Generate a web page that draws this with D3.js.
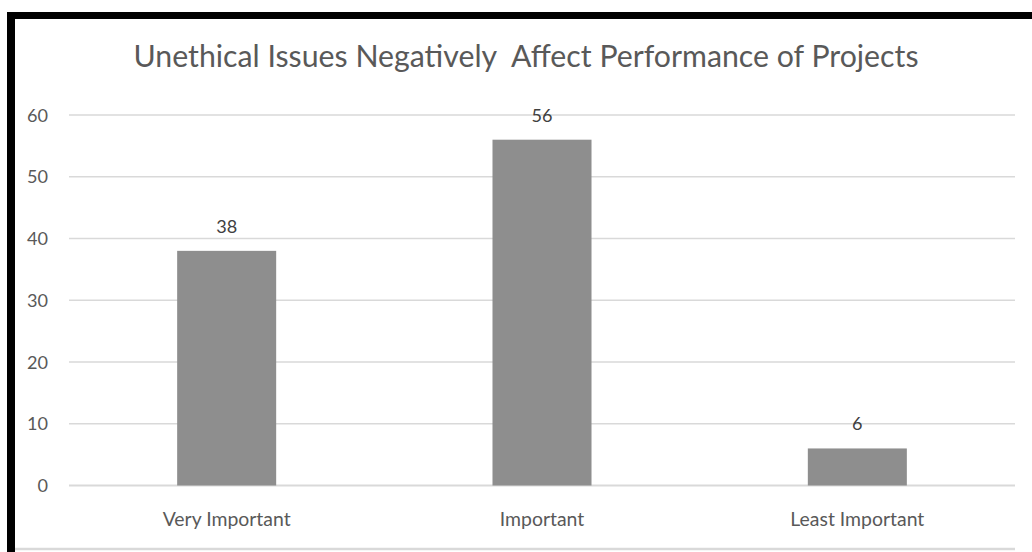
<!DOCTYPE html>
<html>
<head>
<meta charset="utf-8">
<script src="https://cdn.jsdelivr.net/npm/d3@7"></script>
<style>
  html, body { margin: 0; padding: 0; background: #fff; }
  svg { display: block; }
  text { font-family: Lato, "Open Sans", sans-serif; }
</style>
</head>
<body>
<svg id="chart" width="1032" height="552"></svg>
<script>
// Survey responses
const chartTitle = "Unethical Issues Negatively  Affect Performance of Projects";
const categories = ["Very Important", "Important", "Least Important"];
const values = [38, 56, 6];
const yTicks = [0, 10, 20, 30, 40, 50, 60];

const W = 1032, H = 552;
const plot = { left: 69, right: 1015, top: 115, bottom: 485.5 };

const svg = d3.select("#chart");
svg.append("rect").attr("width", W).attr("height", H).attr("fill", "#fff");

// Scale a text element's font size so it spans the given width
function fitWidth(sel, width) {
  sel.each(function () {
    const base = parseFloat(this.getAttribute("font-size"));
    const w = this.getComputedTextLength();
    if (w > 0) this.setAttribute("font-size", (base * width / w).toFixed(2));
  });
}

const x = d3.scaleBand()
  .domain(categories)
  .range([plot.left, plot.right])
  .paddingInner(0.686)
  .paddingOuter(0.343);

const y = d3.scaleLinear()
  .domain([0, 60])
  .range([plot.bottom, plot.top]);

// Horizontal gridlines
svg.append("g")
  .selectAll("line")
  .data(yTicks)
  .join("line")
  .attr("x1", plot.left)
  .attr("x2", plot.right)
  .attr("y1", d => y(d))
  .attr("y2", d => y(d))
  .attr("stroke", "#d9d9d9")
  .attr("stroke-width", d => d === 0 ? 2 : 1.5);

// Y tick labels
const yLabels = svg.append("g")
  .selectAll("text")
  .data(yTicks)
  .join("text")
  .attr("x", 48)
  .attr("y", d => y(d))
  .attr("dy", "0.36em")
  .attr("text-anchor", "end")
  .attr("fill", "#595959")
  .attr("font-size", 16)
  .text(d => d);
fitWidth(yLabels.filter(d => d === 60), 21);
const tickSize = yLabels.filter(d => d === 60).attr("font-size");
yLabels.attr("font-size", tickSize);

// Bars
svg.append("g")
  .selectAll("rect")
  .data(values)
  .join("rect")
  .attr("x", (d, i) => x(categories[i]))
  .attr("width", x.bandwidth())
  .attr("y", d => y(d))
  .attr("height", d => y(0) - y(d))
  .attr("fill", "#8e8e8e");

// Value labels
svg.append("g")
  .selectAll("text")
  .data(values)
  .join("text")
  .attr("x", (d, i) => x(categories[i]) + x.bandwidth() / 2)
  .attr("y", d => y(d) - 18)
  .attr("text-anchor", "middle")
  .attr("fill", "#404040")
  .attr("font-size", tickSize)
  .text(d => d);

// Category labels
const catLabels = svg.append("g")
  .selectAll("text")
  .data(categories)
  .join("text")
  .attr("x", d => x(d) + x.bandwidth() / 2)
  .attr("y", 526)
  .attr("text-anchor", "middle")
  .attr("fill", "#595959")
  .attr("font-size", 16)
  .text(d => d);
fitWidth(catLabels.filter(d => d === "Very Important"), 128);
catLabels.attr("font-size", catLabels.filter(d => d === "Very Important").attr("font-size"));

// Title
const title = svg.append("text")
  .attr("x", 526)
  .attr("y", 67)
  .attr("text-anchor", "middle")
  .attr("fill", "#595959")
  .attr("font-size", 28)
  .style("white-space", "pre")
  .text(chartTitle);
fitWidth(title, 785);

// Frame: light bottom rule and heavy black top/left edges
svg.append("line")
  .attr("x1", 15).attr("x2", plot.right)
  .attr("y1", 549).attr("y2", 549)
  .attr("stroke", "#d9d9d9").attr("stroke-width", 2.5);
svg.append("rect")
  .attr("x", 7).attr("y", 12)
  .attr("width", W - 7).attr("height", 7)
  .attr("fill", "#000");
svg.append("rect")
  .attr("x", 7).attr("y", 12)
  .attr("width", 8).attr("height", H - 12)
  .attr("fill", "#000");
</script>
</body>
</html>
